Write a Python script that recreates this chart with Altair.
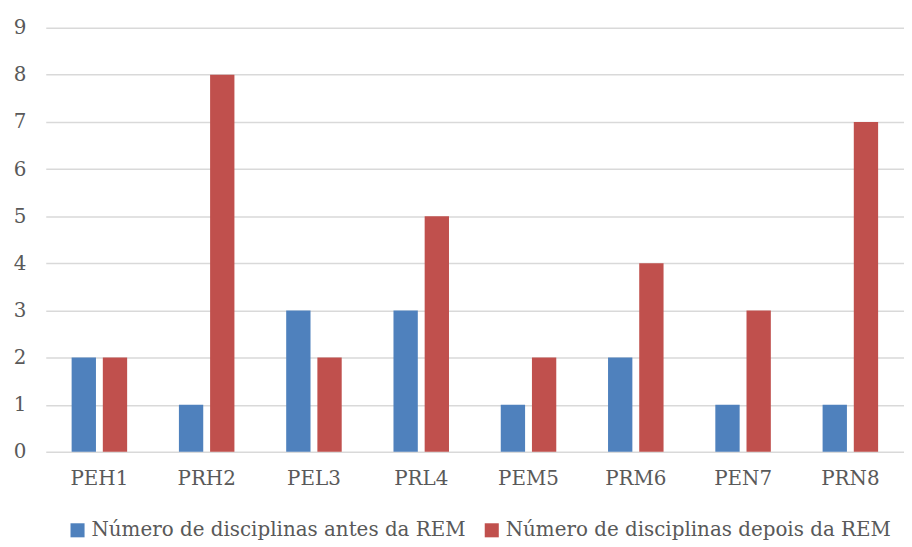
import altair as alt
import pandas as pd

categories = ["PEH1", "PRH2", "PEL3", "PRL4", "PEM5", "PRM6", "PEN7", "PRN8"]
antes = [2, 1, 3, 3, 1, 2, 1, 1]
depois = [2, 8, 2, 5, 2, 4, 3, 7]
series = ["Número de disciplinas antes da REM", "Número de disciplinas depois da REM"]

rows = []
for c, a, d in zip(categories, antes, depois):
    rows.append({"cat": c, "serie": series[0], "valor": a})
    rows.append({"cat": c, "serie": series[1], "valor": d})
df = pd.DataFrame(rows)

FONT = "DejaVu Serif"

chart = alt.Chart(df).mark_bar().encode(
    x=alt.X("cat:N", sort=categories, title=None,
            scale=alt.Scale(paddingInner=0, paddingOuter=0),
            axis=alt.Axis(labelAngle=0, ticks=False, domain=False, labelPadding=17,
                          labelFontSize=20, labelColor="#595959", labelFont=FONT)),
    xOffset=alt.XOffset("serie:N", sort=series,
                        scale=alt.Scale(paddingInner=0.22, paddingOuter=0.83)),
    y=alt.Y("valor:Q", title=None,
            scale=alt.Scale(domain=[0, 9], nice=False),
            axis=alt.Axis(values=list(range(10)), ticks=False, domain=False, labelPadding=20,
                          labelFontSize=20, labelColor="#595959", labelFont=FONT,
                          gridColor="#d9d9d9", gridWidth=1.5)),
    color=alt.Color("serie:N", sort=series, title=None,
                    scale=alt.Scale(domain=series, range=["#4F81BD", "#C0504D"]),
                    legend=alt.Legend(orient="none", direction="horizontal", symbolType="square",
                                      legendX=22, legendY=496,
                                      symbolSize=200, labelFontSize=20, labelColor="#595959",
                                      labelFont=FONT, columnPadding=16, symbolStrokeWidth=0,
                                      labelLimit=500)),
).properties(
    width=864, height=427,
    autosize=alt.AutoSizeParams(type="none"),
    padding={"left": 38, "top": 18, "right": 0, "bottom": 92},
).configure_view(stroke=None)

chart.save("out.html", embed_options={"renderer": "svg", "actions": False})
